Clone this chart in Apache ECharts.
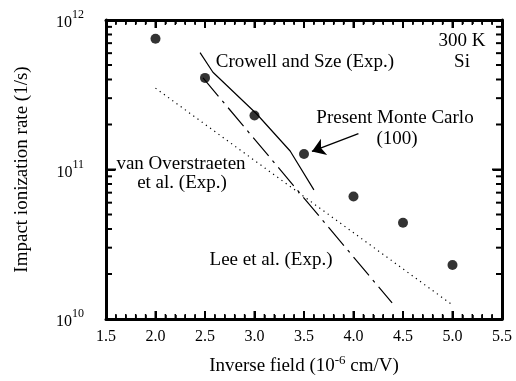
<!DOCTYPE html>
<html>

<head>
	<meta charset="UTF-8">
	<title></title>
	<style>
		html, body {
			margin: 0;
			padding: 0;
			background: #fff;
		}
		#chart1 {
			width: 516px;
			height: 381px;
		}
	</style>
	<script src="https://cdn.jsdelivr.net/npm/echarts@6/dist/echarts.min.js"></script>
</head>

<body>
	<div id="chart1"></div>
	<script>
		// inverse field (1e-6 cm/V), impact ionization rate (1/s)
		var monteCarlo = [
			[2.0, 7.5e11], [2.5, 4.1e11], [3.0, 2.3e11], [3.5, 1.27e11],
			[4.0, 6.6e10], [4.5, 4.4e10], [5.0, 2.3e10]
		];
		var crowellSze = [[2.45, 6.05e11], [2.58, 4.47e11], [3.02, 2.36e11], [3.36, 1.33e11], [3.6, 7.3e10]];
		var leeEtAl = [[2.48, 4.1e11], [4.39, 1.28e10]];
		var vanOverstraeten = [[2.0, 3.5e11], [5.0, 1.24e10]];
		var arrowLine = [[4.05, 1.74e11], [3.58, 1.32e11]];

		// tick values
		var xMajorTicks = [1.5, 2.0, 2.5, 3.0, 3.5, 4.0, 4.5, 5.0, 5.5];
		var yMajorTicks = [1e10, 1e11, 1e12];
		var yMinorTicks = [2e10, 3e10, 4e10, 5e10, 6e10, 7e10, 8e10, 9e10,
			2e11, 3e11, 4e11, 5e11, 6e11, 7e11, 8e11, 9e11];

		(function () {
			var xMin = 1.5, xMax = 5.5, xStep = 0.5;
			var yMin = 1e10, yMax = 1e12;
			var serif = '"Liberation Serif", "DejaVu Serif", serif';

			function xAxisOpt(pos, showLabel) {
				return {
					type: 'value',
					position: pos,
					min: xMin,
					max: xMax,
					interval: xStep,
					axisLine: { show: true, lineStyle: { color: '#000', width: 3 } },
					axisTick: { show: true, inside: true, length: 8, lineStyle: { color: '#000', width: 2 } },
					minorTick: { show: true, splitNumber: 5, length: 4, lineStyle: { color: '#000', width: 1.5 } },
					splitLine: { show: false },
					axisLabel: {
						show: showLabel,
						margin: 10,
						color: '#000',
						fontFamily: serif,
						fontSize: 16,
						formatter: function (v) { return v.toFixed(1); }
					}
				};
			}

			function yAxisOpt(pos, showLabel) {
				return {
					type: 'log',
					logBase: 10,
					position: pos,
					min: yMin,
					max: yMax,
					axisLine: { show: true, lineStyle: { color: '#000', width: 3 } },
					axisTick: { show: true, inside: true, length: 9, lineStyle: { color: '#000', width: 2 } },
					splitLine: { show: false },
					axisLabel: {
						show: showLabel,
						margin: 22,
						color: '#000',
						formatter: function (v) {
							return '{b|10}{s|' + Math.round(Math.log10(v)) + '}';
						},
						rich: {
							b: { fontFamily: serif, fontSize: 16, color: '#000', lineHeight: 22, verticalAlign: 'bottom' },
							s: { fontFamily: serif, fontSize: 12, color: '#000', lineHeight: 22, verticalAlign: 'top' }
						}
					}
				};
			}

			var myChart = echarts.init(document.getElementById('chart1'));

			var xBottom = xAxisOpt('bottom', true);
			xBottom.name = '{a|Inverse field (10}{s|-6}{a| cm/V)}';
			xBottom.nameLocation = 'middle';
			xBottom.nameGap = 35;
			xBottom.nameTextStyle = {
				rich: {
					a: { fontFamily: serif, fontSize: 19, color: '#000', lineHeight: 22, verticalAlign: 'bottom' },
					s: { fontFamily: serif, fontSize: 13, color: '#000', lineHeight: 22, verticalAlign: 'top' }
				}
			};

			var yLeft = yAxisOpt('left', true);
			yLeft.name = 'Impact ionization rate (1/s)';
			yLeft.nameLocation = 'middle';
			yLeft.nameGap = 74;
			yLeft.nameTextStyle = { fontFamily: serif, fontSize: 19, color: '#000' };

			function note(txt, x, y) {
				return {
					type: 'text', x: x, y: y, silent: true,
					style: { text: txt, font: '19px ' + serif, fill: '#000', textAlign: 'center', textVerticalAlign: 'middle' }
				};
			}
			var notes = [
				note('Crowell and Sze (Exp.)', 305, 62),
				note('300 K', 462, 41),
				note('Si', 462, 62),
				note('Present Monte Carlo', 395, 118),
				note('(100)', 397, 139),
				note('van Overstraeten', 181, 164),
				note('et al. (Exp.)', 182, 183),
				note('Lee et al. (Exp.)', 271, 260)
			];

			myChart.setOption({
				animation: false,
				grid: { left: 106, right: 14, top: 20, bottom: 58 },
				xAxis: [xBottom, xAxisOpt('top', false)],
				yAxis: [yLeft, yAxisOpt('right', false)],
				graphic: notes,
				series: [
					{
						type: 'line',
						data: crowellSze,
						symbol: 'none',
						lineStyle: { color: '#000', width: 1.2 }
					},
					{
						type: 'line',
						data: leeEtAl,
						symbol: 'none',
						lineStyle: { color: '#000', width: 1.2, type: [24, 6, 3, 6] }
					},
					{
						type: 'line',
						data: vanOverstraeten,
						symbol: 'none',
						lineStyle: { color: '#000', width: 1.2, type: [1.2, 4] }
					},
					{
						type: 'scatter',
						data: monteCarlo,
						symbolSize: 10,
						itemStyle: { color: '#000' },
						markLine: {
							silent: true,
							symbol: ['none', 'arrow'],
							symbolSize: 13,
							label: { show: false },
							lineStyle: { color: '#000', width: 1.3, type: 'solid' },
							data: [[{ coord: arrowLine[0] }, { coord: arrowLine[1] }]]
						}
					}
				]
			});

			// frame ticks, placed through the chart's own scales
			function px(x, y) { return myChart.convertToPixel({ gridIndex: 0 }, [x, y]); }
			function tickRect(x, y, w, h, z) {
				return { type: 'rect', silent: true, z: 10, shape: { x: x, y: y, width: w, height: h }, style: { fill: '#000' } };
			}
			var ticks = [];
			var yb = px(xMin, yMin)[1], yt = px(xMin, yMax)[1];
			var xl = px(xMin, yMin)[0], xr = px(xMax, yMin)[0];
			xMajorTicks.forEach(function (x, i) {
				var p = px(x, yMin)[0];
				ticks.push(tickRect(p - 1, yb - 8, 2, 8), tickRect(p - 1, yt, 2, 8));
				if (i < xMajorTicks.length - 1) {
					for (var k = 1; k < 5; k++) {
						var q = px(x + k * (xStep / 5), yMin)[0];
						ticks.push(tickRect(q - 0.75, yb - 5, 1.5, 5), tickRect(q - 0.75, yt, 1.5, 5));
					}
				}
			});
			yMajorTicks.forEach(function (v) {
				var p = px(xMin, v)[1];
				ticks.push(tickRect(xl, p - 1, 10, 2), tickRect(xr - 10, p - 1, 10, 2));
			});
			yMinorTicks.forEach(function (v) {
				var p = px(xMin, v)[1];
				ticks.push(tickRect(xl, p - 1, 6, 2), tickRect(xr - 6, p - 1, 6, 2));
			});
			myChart.setOption({ graphic: notes.concat(ticks) });
		})();
	</script>
</body>

</html>
